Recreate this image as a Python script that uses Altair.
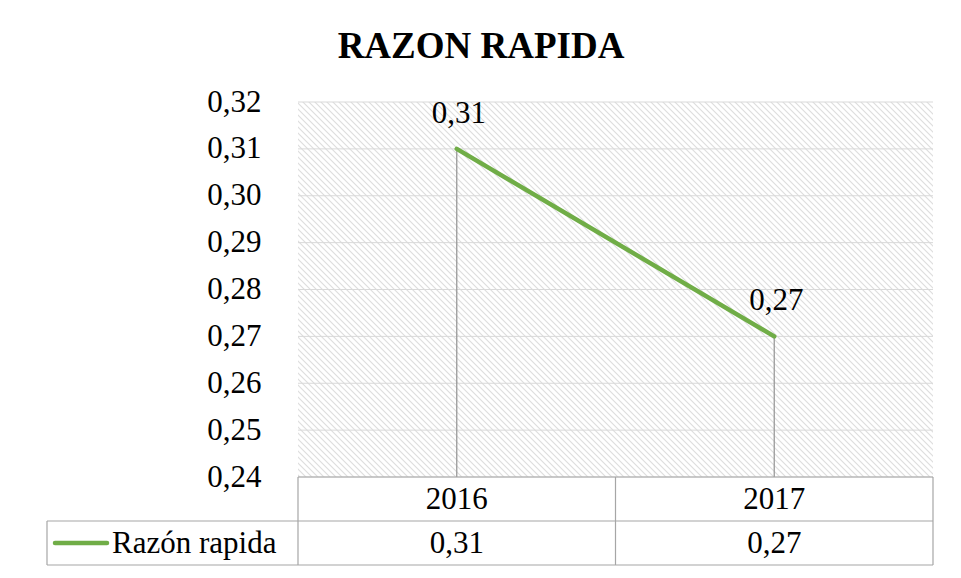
import math
import altair as alt
import pandas as pd

# ---- data ----
years = ["2016", "2017"]
values = [0.31, 0.27]
y_ticks = [0.24, 0.25, 0.26, 0.27, 0.28, 0.29, 0.30, 0.31, 0.32]
title_text = "RAZON RAPIDA"
series_name = "Razón rapida"

# ---- style ----
W, H = 635, 375
FONT = "Liberation Serif"
GREEN = "#70ad47"
BORDER = "#a6a6a6"
GRID = "#d9d9d9"
FS = 31

df = pd.DataFrame({"year": years, "value": values})
df["label"] = [f"{v:.2f}".replace(".", ",") for v in values]
ticks_df = pd.DataFrame({"tick": y_ticks})
one = pd.DataFrame({"k": [0]})

# diagonal hatch as a striped linear gradient (bounding-box units)
period = 6.0
half = 1.4
span = W + H
stops = [{"offset": 0.0, "color": "#ffffff"}]
s = -H + half + 0.5
while s + half < W:
    for d, col in ((-half, "#ffffff"), (0.0, "#dcdcdc"), (half, "#ffffff")):
        o = (s + d + H) / span
        stops.append({"offset": round(o, 6), "color": col})
    s += period
stops.append({"offset": 1.0, "color": "#ffffff"})
t = (W + H) / (W * W + H * H)
grad = {"gradient": "linear", "x1": 0, "y1": 1, "x2": t * W, "y2": 1 - t * H, "stops": stops}

xscale = alt.Scale(type="band", domain=years, paddingInner=0, paddingOuter=0)
yscale = alt.Scale(domain=[0.24, 0.32], nice=False, zero=False)

yaxis = alt.Axis(values=y_ticks,
                 labelExpr="replace(format(datum.value, '.2f'), '.', ',')",
                 domain=False, ticks=False, grid=False, title=None,
                 labelFont=FONT, labelFontSize=FS, labelColor="black",
                 labelPadding=37, labelFlush=False, labelOverlap=False)

bg = alt.Chart(one).mark_rect(fill=grad).encode(
    x=alt.value(0), x2=alt.value(W), y=alt.value(0), y2=alt.value(H))

grid = alt.Chart(ticks_df).mark_rule(color=GRID, strokeWidth=1).encode(
    y=alt.Y("tick:Q", scale=yscale, axis=yaxis))

xenc = alt.X("year:N", scale=xscale, axis=None, bandPosition=0.5)

drops = alt.Chart(df).mark_rule(color="#9a9a9a", strokeWidth=1.3).encode(
    x=xenc, y=alt.Y("value:Q", scale=yscale), y2=alt.value(H))

line = alt.Chart(df).mark_line(color=GREEN, strokeWidth=4.5, strokeCap="round").encode(
    x=xenc, y=alt.Y("value:Q", scale=yscale))

labels = alt.Chart(df).mark_text(font=FONT, fontSize=FS, color="black",
                                 baseline="alphabetic", dy=-26, dx=2).encode(
    x=xenc, y=alt.Y("value:Q", scale=yscale), text="label:N")

# ---- data table below the plot ----
vlines = alt.Chart(df).mark_rule(color=BORDER, strokeWidth=1.2).encode(
    x=alt.X("year:N", scale=xscale, axis=None, bandPosition=0),
    y=alt.value(H), y2=alt.value(H + 88))
vline_end = alt.Chart(df).transform_filter(
    alt.datum.year == years[-1]).mark_rule(color=BORDER, strokeWidth=1.2).encode(
    x=alt.X("year:N", scale=xscale, axis=None, bandPosition=1),
    y=alt.value(H), y2=alt.value(H + 88))
hline_top = alt.Chart(one).mark_rule(color=BORDER, strokeWidth=1.2).encode(
    x=alt.value(0), x2=alt.value(W), y=alt.value(H))
hline_mid = alt.Chart(one).mark_rule(color=BORDER, strokeWidth=1.2).encode(
    x=alt.value(-251), x2=alt.value(W), y=alt.value(H + 44))
hline_bot = alt.Chart(one).mark_rule(color=BORDER, strokeWidth=1.2).encode(
    x=alt.value(-251), x2=alt.value(W), y=alt.value(H + 88))
vline_left = alt.Chart(one).mark_rule(color=BORDER, strokeWidth=1.2).encode(
    x=alt.value(-251), y=alt.value(H + 44), y2=alt.value(H + 88))

head_txt = alt.Chart(df).mark_text(font=FONT, fontSize=FS, color="black",
                                   baseline="middle", dy=1).encode(
    x=xenc, y=alt.value(H + 22), text="year:N")
val_txt = alt.Chart(df).mark_text(font=FONT, fontSize=FS, color="black",
                                  baseline="middle", dy=1).encode(
    x=xenc, y=alt.value(H + 66), text="label:N")

key = alt.Chart(one).mark_rule(color=GREEN, strokeWidth=4.5, strokeCap="round").encode(
    x=alt.value(-243), x2=alt.value(-191), y=alt.value(H + 66))
key_txt = alt.Chart(one).mark_text(font=FONT, fontSize=FS, color="black",
                                   align="left", baseline="middle", dy=1).encode(
    x=alt.value(-186), y=alt.value(H + 66), text=alt.value(series_name))

title = alt.Chart(one).mark_text(font=FONT, fontSize=37, fontWeight="bold",
                                 color="black", baseline="alphabetic").encode(
    x=alt.value(183), y=alt.value(-44), text=alt.value(title_text))

chart = alt.layer(
    bg, grid, drops, line, labels,
    vlines, vline_end, hline_top, hline_mid, hline_bot, vline_left,
    head_txt, val_txt, key, key_txt, title
).properties(
    width=W, height=H,
    autosize=alt.AutoSizeParams(type="none"),
    padding={"left": 290, "top": 94, "right": 12, "bottom": 90},
).configure_view(stroke=None)

chart.save("out.html", embed_options={"renderer": "svg", "actions": False})
